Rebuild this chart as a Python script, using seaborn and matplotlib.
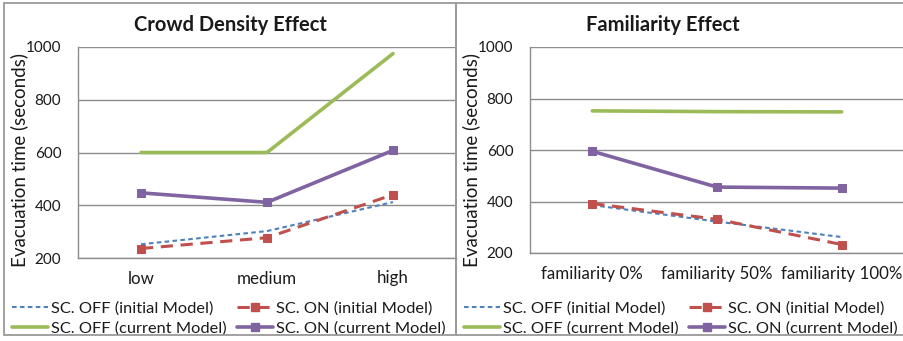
import numpy as np
import pandas as pd
import matplotlib
matplotlib.use("Agg")
import matplotlib.pyplot as plt
from matplotlib.lines import Line2D
from matplotlib.patches import Rectangle
import seaborn as sns

# ---- data ----
density_cats = ["low", "medium", "high"]
density_off_initial = [252, 302, 412]
density_on_initial = [236, 277, 440]
density_off_current = [600, 600, 975]
density_on_current = [447, 411, 608]

familiarity_cats = ["familiarity 0%", "familiarity 50%", "familiarity 100%"]
fam_off_initial = [386, 322, 262]
fam_on_initial = [392, 331, 233]
fam_off_current = [752, 749, 748]
fam_on_current = [595, 456, 452]

series_labels = ["SC. OFF (initial Model)", "SC. ON (initial Model)",
                 "SC. OFF (current Model)", "SC. ON (current Model)"]
y_ticks = [200, 400, 600, 800, 1000]
titles = ["Crowd Density Effect", "Familiarity Effect"]
y_label = "Evacuation time (seconds)"

sns.set_theme(style="white")
plt.rcParams["font.family"] = ["Lato", "DejaVu Sans"]

W, H = 904, 341
fig = plt.figure(figsize=(W / 100, H / 100), dpi=100)

GRID = "#8c8c8c"
TXT = "#1a1a1a"
styles = [
    dict(color="#4F81BD", lw=1.5, dashes=(2.2, 1.6), marker=None),
    dict(color="#C0504D", lw=2.2, dashes=(4.0, 2.5), marker="s"),
    dict(color="#9BBB59", lw=2.6, dashes=None, marker=None),
    dict(color="#8064A2", lw=2.6, dashes=None, marker="s"),
]

def px_box(l, r, top, bot):
    return [l / W, 1 - bot / H, (r - l) / W, (bot - top) / H]

panels = [
    dict(px=(78, 456, 47, 258), cats=density_cats,
         series=[density_off_initial, density_on_initial, density_off_current, density_on_current],
         title_x=230, ylab_x=19, leg_x=12),
    dict(px=(530, 904, 47, 253), cats=familiarity_cats,
         series=[fam_off_initial, fam_on_initial, fam_off_current, fam_on_current],
         title_x=663, ylab_x=471, leg_x=464),
]

for i, p in enumerate(panels):
    l, r, t, b = p["px"]
    ax = fig.add_axes(px_box(l, r, t, b))
    x = np.arange(len(p["cats"]))
    handles = []
    for vals, st, lab in zip(p["series"], styles, series_labels):
        df = pd.DataFrame({"x": x, "y": vals})
        sns.lineplot(data=df, x="x", y="y", ax=ax, color=st["color"],
                     linewidth=st["lw"])
        ln = ax.get_lines()[-1]
        if st["dashes"]:
            ln.set_dashes(st["dashes"])
        if st["marker"]:
            ln.set_marker("s")
            ln.set_markersize(5.5)
            ln.set_markerfacecolor(st["color"])
            ln.set_markeredgecolor(st["color"])
        h = Line2D([0], [0], color=st["color"], linewidth=st["lw"],
                   marker=st["marker"], markersize=5.5)
        if st["dashes"]:
            h.set_dashes(st["dashes"])
        handles.append(h)
    ax.set_xlim(-0.5, len(p["cats"]) - 0.5)
    ax.set_ylim(200, 1000)
    ax.set_yticks(y_ticks)
    ax.set_xticks(x)
    ax.set_xticklabels(p["cats"])
    ax.set_xlabel("")
    ax.set_ylabel("")
    ax.grid(axis="y", color=GRID, linewidth=1.0)
    ax.set_axisbelow(True)
    for s in ["top", "right"]:
        ax.spines[s].set_visible(False)
    for s in ["left", "bottom"]:
        ax.spines[s].set_color(GRID)
        ax.spines[s].set_linewidth(1.0)
    ax.tick_params(axis="y", length=0, pad=12, labelsize=11, colors=TXT)
    ax.tick_params(axis="x", length=0, pad=9, labelsize=12.2, colors=TXT)
    ax.patch.set_alpha(0)

    fig.text(p["title_x"] / W, 1 - 25 / H, titles[i], ha="center", va="center",
             fontsize=14.5, fontweight="bold", color=TXT)
    fig.text(p["ylab_x"] / W, 1 - 160 / H, y_label, rotation=90, ha="center",
             va="center", fontsize=13.5, color=TXT)

    order = [0, 2, 1, 3]
    ax.legend([handles[k] for k in order], [series_labels[k] for k in order],
              ncol=2, frameon=False, loc="upper left",
              bbox_to_anchor=((p["leg_x"] - l) / (r - l), -(301 - b) / (b - t)),
              fontsize=11.8, handlelength=2.2, handletextpad=0.2,
              columnspacing=0.6, labelspacing=0.35, borderaxespad=0,
              borderpad=0, labelcolor=TXT)

# panel frames
fig.patches.append(Rectangle((4 / W, 1 - 335 / H), 452 / W, 332 / H,
                             transform=fig.transFigure, fill=False,
                             edgecolor="#9a9a9a", linewidth=1.3))
fig.patches.append(Rectangle((456 / W, 1 - 335 / H), 460 / W, 332 / H,
                             transform=fig.transFigure, fill=False,
                             edgecolor="#9a9a9a", linewidth=1.3))

fig.savefig("out.png", dpi=100, facecolor="white")
